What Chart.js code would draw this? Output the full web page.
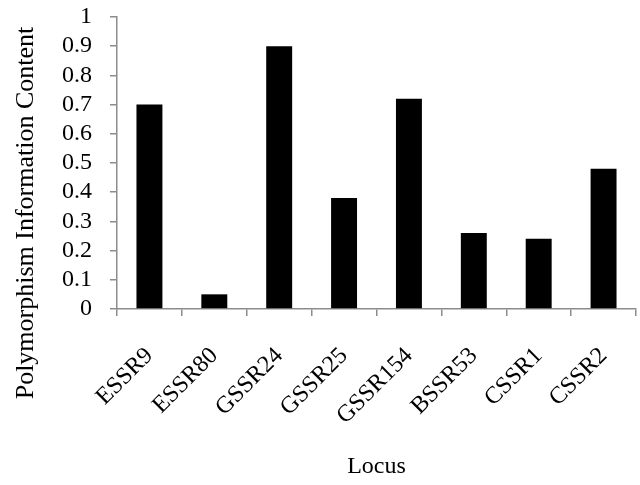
<!DOCTYPE html>
<html>
<head>
<meta charset="utf-8">
<script src="https://cdn.jsdelivr.net/npm/chart.js@4/dist/chart.umd.min.js"></script>
<style>
    html, body { margin: 0; padding: 0; background: #fff; }
    #wrap { width: 640px; height: 485px; }
</style>
</head>
<body>
<div id="wrap"><canvas id="pic"></canvas></div>
<script>
const loci = ['ESSR9', 'ESSR80', 'GSSR24', 'GSSR25', 'GSSR154', 'BSSR53', 'CSSR1', 'CSSR2'];
const picValues = [0.70, 0.05, 0.90, 0.38, 0.72, 0.26, 0.24, 0.48];
const yTicks = [0, 0.1, 0.2, 0.3, 0.4, 0.5, 0.6, 0.7, 0.8, 0.9, 1];
const yTitle = 'Polymorphism Information Content';
const xTitle = 'Locus';

const serif = "'Liberation Serif', 'Times New Roman', serif";
const axisGrey = '#8c8c8c';

// y title sits lower than the axis middle in the original, so draw it by hand
const yTitlePlugin = {
    id: 'yTitle',
    afterDraw(chart) {
        const c = chart.ctx;
        c.save();
        c.translate(26, 213);
        c.rotate(-Math.PI / 2);
        c.fillStyle = '#000';
        c.font = '26px ' + serif;
        c.textAlign = 'center';
        c.textBaseline = 'middle';
        c.fillText(yTitle, 0, 0);
        c.restore();
    }
};

const ctx = document.getElementById('pic').getContext('2d');

new Chart(ctx, {
    type: 'bar',
    data: {
        labels: loci,
        datasets: [{
            label: 'PIC',
            data: picValues,
            backgroundColor: '#000',
            borderWidth: 0,
            barPercentage: 0.4,
            categoryPercentage: 1
        }]
    },
    plugins: [yTitlePlugin],
    options: {
        responsive: true,
        maintainAspectRatio: false,
        animation: false,
        layout: { padding: { top: 0, right: 4, left: 44, bottom: 4 } },
        plugins: {
            legend: { display: false },
            tooltip: { enabled: false }
        },
        scales: {
            x: {
                // big tick padding otherwise pushes the plot inward
                afterFit: (s) => {
                    s.paddingLeft = 0;
                    s.paddingRight = 0;
                    s.height -= 12;
                },
                grid: {
                    display: true,
                    drawOnChartArea: false,
                    drawTicks: true,
                    tickLength: 7,
                    color: axisGrey,
                    lineWidth: 1.5
                },
                border: { color: axisGrey, width: 1.5 },
                ticks: {
                    color: '#000',
                    font: { family: serif, size: 24 },
                    autoSkip: false,
                    minRotation: 45,
                    maxRotation: 45,
                    padding: 26
                },
                title: {
                    display: true,
                    text: xTitle,
                    color: '#000',
                    font: { family: serif, size: 24 },
                    padding: { top: 8, bottom: 0 }
                }
            },
            y: {
                min: 0,
                max: 1,
                afterBuildTicks: (axis) => {
                    axis.ticks = yTicks.map(v => ({ value: v }));
                },
                afterFit: (s) => { s.paddingTop = 17; s.paddingBottom = 15; },
                grid: {
                    display: true,
                    drawOnChartArea: false,
                    drawTicks: true,
                    tickLength: 7,
                    color: axisGrey,
                    lineWidth: 1.5
                },
                border: { color: axisGrey, width: 1.5 },
                ticks: {
                    color: '#000',
                    font: { family: serif, size: 24 },
                    autoSkip: false,
                    padding: 18,
                    callback: (v) => String(Math.round(v * 10) / 10)
                }
            }
        }
    }
});
</script>
</body>
</html>
